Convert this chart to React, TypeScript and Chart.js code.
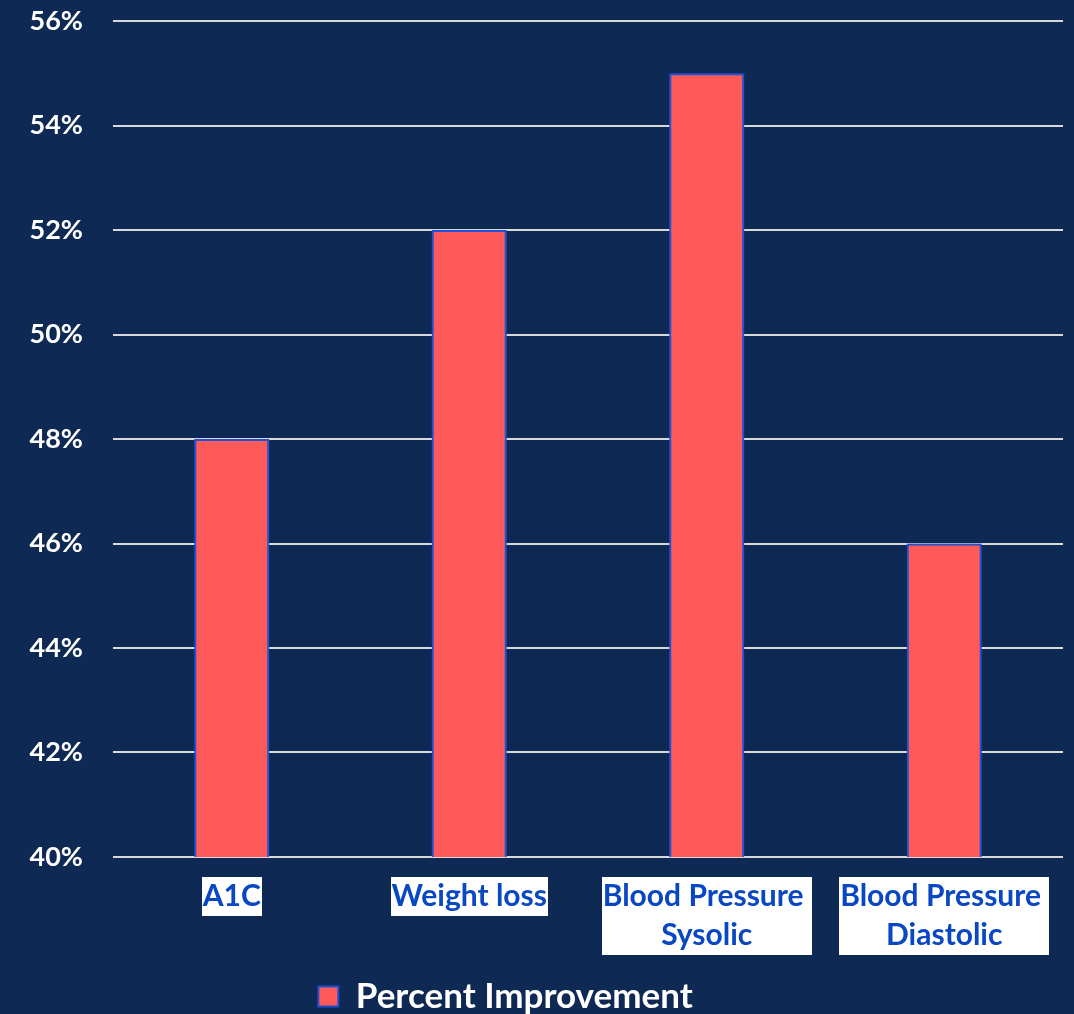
import React, { useEffect, useRef } from "react";
import { Chart, registerables } from "chart.js";

Chart.register(...registerables);

const categories: string[][] = [
  ["A1C"],
  ["Weight loss"],
  ["Blood Pressure ", "Sysolic"],
  ["Blood Pressure ", "Diastolic"],
];
const seriesLabel = "Percent Improvement";
const percentImprovement: number[] = [0.48, 0.52, 0.55, 0.46];
const yMin = 0.4;
const yMax = 0.56;
const yStep = 0.02;

const BG = "#0F2955";
const FONT = "Lato, 'Open Sans', sans-serif";
const XFONT_SIZE = 30;
const XLINE_H = 39;

const legendShift = {
  id: "legendShift",
  afterLayout(chart: any) {
    const l = chart.legend;
    if (l) {
      l.left -= 26;
      l.right -= 26;
      l.top += 10;
      l.bottom += 10;
    }
  },
};

const labelBackdrop = {
  id: "labelBackdrop",
  beforeDraw(chart: any) {
    const xs = chart.scales.x;
    const ctx = chart.ctx;
    const pad = xs.options.ticks.padding;
    ctx.save();
    ctx.font = `bold ${XFONT_SIZE}px ${FONT}`;
    ctx.fillStyle = "#FFFFFF";
    xs.ticks.forEach((_t: any, i: number) => {
      const lines = categories[i];
      const w = Math.max(...lines.map((l) => ctx.measureText(l).width)) + 2;
      const h = lines.length * XLINE_H;
      const cx = xs.getPixelForTick(i);
      ctx.fillRect(Math.round(cx - w / 2), Math.round(xs.top + pad), Math.round(w), h);
    });
    ctx.restore();
  },
};

const barGlow = {
  id: "barGlow",
  beforeDatasetDraw(chart: any) {
    const ctx = chart.ctx;
    ctx.save();
    ctx.shadowColor = "rgba(30,90,235,0.9)";
    ctx.shadowBlur = 6;
  },
  afterDatasetDraw(chart: any) {
    chart.ctx.restore();
  },
};

export default function App() {
  const ref = useRef<HTMLCanvasElement | null>(null);
  useEffect(() => {
    if (!ref.current) return;
    const chart = new Chart(ref.current, {
      type: "bar",
      data: {
        labels: categories,
        datasets: [
          {
            label: seriesLabel,
            data: percentImprovement,
            backgroundColor: "#FF5A5A",
            borderColor: "#1F4FCF",
            borderWidth: 2,
            barPercentage: 0.316,
            categoryPercentage: 1,
          },
        ],
      },
      options: {
        animation: false,
        responsive: true,
        maintainAspectRatio: false,
        layout: { padding: { top: 21, right: 11, bottom: 0, left: 0 } },
        plugins: {
          legend: {
            position: "bottom",
            labels: {
              color: "#FFFFFF",
              font: { family: FONT, size: 35, weight: "bold" },
              boxWidth: 20,
              boxHeight: 20,
              padding: 0,
            },
          },
          tooltip: { enabled: false },
        },
        scales: {
          x: {
            grid: { display: false, drawTicks: false },
            border: { display: false },
            afterFit: (s: any) => {
              s.height = 112;
              s.paddingLeft = 0;
              s.paddingRight = 0;
            },
            ticks: {
              color: "#0A47C2",
              font: { family: FONT, size: XFONT_SIZE, weight: "bold", lineHeight: XLINE_H / XFONT_SIZE },
              padding: 20,
              maxRotation: 0,
              autoSkip: false,
            },
          },
          y: {
            min: yMin,
            max: yMax,
            grid: { color: "#D9D9D9", lineWidth: 2, drawTicks: false },
            border: { display: false },
            afterFit: (s: any) => {
              s.width = 113;
              s.paddingTop = 0;
              s.paddingBottom = 0;
            },
            ticks: {
              stepSize: yStep,
              color: "#FFFFFF",
              font: { family: FONT, size: 27, weight: "bold" },
              padding: 30,
              callback: (v: any) => Math.round(Number(v) * 100) + "%",
            },
          },
        },
      },
      plugins: [legendShift, labelBackdrop, barGlow],
    } as any);
    return () => chart.destroy();
  }, []);
  return (
    <div
      style={{
        position: "absolute",
        left: 0,
        top: 0,
        width: 1074,
        height: 1014,
        background: BG,
      }}
    >
      <canvas ref={ref} />
    </div>
  );
}
